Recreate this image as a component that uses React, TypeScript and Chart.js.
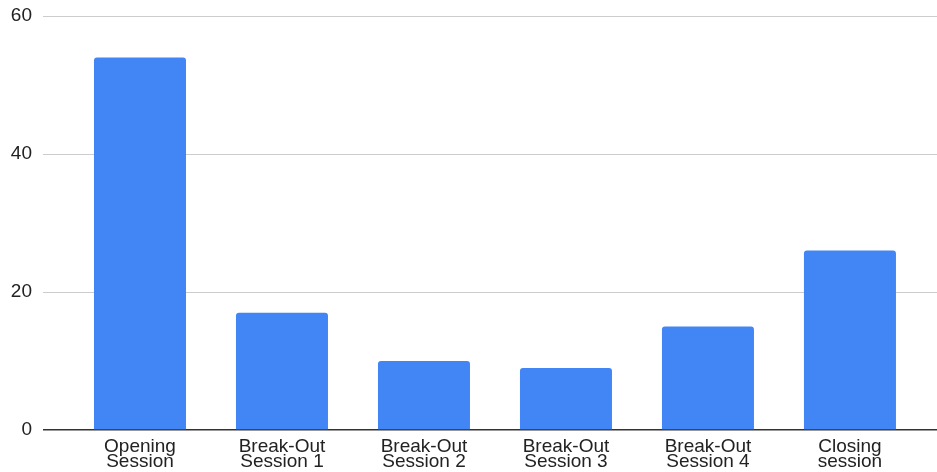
import React, { useEffect, useRef } from "react";
import { Chart, registerables } from "chart.js";

Chart.register(...registerables);

const categories: string[][] = [
  ["Opening", "Session"],
  ["Break-Out", "Session 1"],
  ["Break-Out", "Session 2"],
  ["Break-Out", "Session 3"],
  ["Break-Out", "Session 4"],
  ["Closing", "session"],
];
const values: number[] = [54, 17, 10, 9, 15, 26];
const yTicks: number[] = [0, 20, 40, 60];

export default function App() {
  const ref = useRef<HTMLCanvasElement | null>(null);
  useEffect(() => {
    document.body.style.margin = "0";
    const canvas = ref.current;
    if (!canvas) return;
    const family = "'Liberation Sans', Arial, sans-serif";
    const chart = new Chart(canvas, {
      type: "bar",
      data: {
        datasets: [
          {
            data: values.map((v, i) => ({ x: i, y: v })),
            backgroundColor: "#4285F4",
            borderRadius: 3,
            barPercentage: 0.648,
            categoryPercentage: 1,
          },
        ],
      },
      options: {
        animation: false,
        responsive: false,
        devicePixelRatio: 1,
        layout: { padding: { top: 16, right: 0, left: 0, bottom: 0 } },
        plugins: { legend: { display: false }, tooltip: { enabled: false } },
        scales: {
          x: {
            type: "linear",
            offset: false,
            min: -0.683,
            max: 5.613,
            grid: { display: false, drawTicks: false, offset: false },
            border: { display: false },
            afterBuildTicks: (scale: any) => {
              scale.ticks = categories.map((_, i) => ({ value: i }));
            },
            afterFit: (scale: any) => {
              scale.height = 42;
              scale.paddingLeft = 0;
              scale.paddingRight = 0;
            },
            ticks: {
              autoSkip: false,
              maxRotation: 0,
              padding: 9,
              color: "#222222",
              font: { family, size: 19, lineHeight: 0.8 },
              callback: (v: any) => categories[Number(v)] ?? "",
            },
          },
          y: {
            min: 0,
            max: 60,
            afterBuildTicks: (scale: any) => {
              scale.ticks = yTicks.map((v) => ({ value: v }));
            },
            afterFit: (scale: any) => {
              scale.width = 43;
              scale.paddingTop = 0;
              scale.paddingBottom = 0;
            },
            grid: {
              drawTicks: false,
              color: (ctx: any) => (ctx.tick && ctx.tick.value === 0 ? "#333333" : "#cccccc"),
              lineWidth: (ctx: any) => (ctx.tick && ctx.tick.value === 0 ? 1.5 : 1),
            },
            border: { display: false },
            ticks: {
              padding: 11,
              color: "#222222",
              font: { family, size: 19 },
            },
          },
        },
      },
    } as any);
    return () => chart.destroy();
  }, []);
  return <canvas ref={ref} width={937} height={472} style={{ display: "block" }} />;
}
